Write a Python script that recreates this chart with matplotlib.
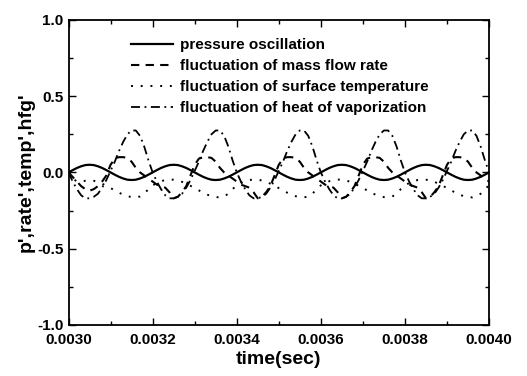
import numpy as np
import matplotlib
matplotlib.use("Agg")
import matplotlib.pyplot as plt
from matplotlib.ticker import MultipleLocator

# time grid the values were read on (10 microsecond steps)
time = np.linspace(0.0030, 0.0040, 101)

# values, one row per period (0.0002 s)
pressure = [
    0.000, 0.015, 0.029, 0.040, 0.048, 0.050, 0.048, 0.040, 0.029, 0.015,
    0.000, -0.015, -0.029, -0.040, -0.048, -0.050, -0.048, -0.040, -0.029, -0.015,
    0.000, 0.015, 0.029, 0.040, 0.048, 0.050, 0.048, 0.040, 0.029, 0.015,
    0.000, -0.015, -0.029, -0.040, -0.048, -0.050, -0.048, -0.040, -0.029, -0.015,
    0.000, 0.015, 0.029, 0.040, 0.048, 0.050, 0.048, 0.040, 0.029, 0.015,
    0.000, -0.015, -0.029, -0.040, -0.048, -0.050, -0.048, -0.040, -0.029, -0.015,
    0.000, 0.015, 0.029, 0.040, 0.048, 0.050, 0.048, 0.040, 0.029, 0.015,
    0.000, -0.015, -0.029, -0.040, -0.048, -0.050, -0.048, -0.040, -0.029, -0.015,
    0.000, 0.015, 0.029, 0.040, 0.048, 0.050, 0.048, 0.040, 0.029, 0.015,
    0.000, -0.015, -0.029, -0.040, -0.048, -0.050, -0.048, -0.040, -0.029, -0.015,
    0.000,
]

mass_rate = [
    0.000, -0.030, -0.060, -0.090, -0.110, -0.120, -0.110, -0.090, -0.060, -0.020,
    0.050, 0.090, 0.100, 0.100, 0.095, 0.070, 0.030, 0.000, -0.020, -0.040,
    -0.060, -0.080, -0.090, -0.100, -0.130, -0.170, -0.160, -0.130, -0.090, -0.020,
    0.050, 0.090, 0.100, 0.100, 0.095, 0.070, 0.030, 0.000, -0.020, -0.040,
    -0.060, -0.080, -0.090, -0.100, -0.130, -0.170, -0.160, -0.130, -0.090, -0.020,
    0.050, 0.090, 0.100, 0.100, 0.095, 0.070, 0.030, 0.000, -0.020, -0.040,
    -0.060, -0.080, -0.090, -0.100, -0.130, -0.170, -0.160, -0.130, -0.090, -0.020,
    0.050, 0.090, 0.100, 0.100, 0.095, 0.070, 0.030, 0.000, -0.020, -0.040,
    -0.060, -0.080, -0.090, -0.100, -0.130, -0.170, -0.160, -0.130, -0.090, -0.020,
    0.050, 0.090, 0.100, 0.100, 0.095, 0.070, 0.030, 0.000, -0.020, -0.040,
    -0.060,
]

surface_temp = [
    0.000, -0.040, -0.060, -0.060, -0.055, -0.052, -0.055, -0.062, -0.074, -0.088,
    -0.103, -0.118, -0.133, -0.146, -0.156, -0.162, -0.164, -0.158, -0.140, -0.110,
    -0.085, -0.070, -0.058, -0.050, -0.047, -0.048, -0.053, -0.062, -0.074, -0.088,
    -0.103, -0.118, -0.133, -0.146, -0.156, -0.162, -0.164, -0.158, -0.140, -0.110,
    -0.085, -0.070, -0.058, -0.050, -0.047, -0.048, -0.053, -0.062, -0.074, -0.088,
    -0.103, -0.118, -0.133, -0.146, -0.156, -0.162, -0.164, -0.158, -0.140, -0.110,
    -0.085, -0.070, -0.058, -0.050, -0.047, -0.048, -0.053, -0.062, -0.074, -0.088,
    -0.103, -0.118, -0.133, -0.146, -0.156, -0.162, -0.164, -0.158, -0.140, -0.110,
    -0.085, -0.070, -0.058, -0.050, -0.047, -0.048, -0.053, -0.062, -0.074, -0.088,
    -0.103, -0.118, -0.133, -0.146, -0.156, -0.162, -0.164, -0.158, -0.140, -0.110,
    -0.085,
]

heat_vap = [
    0.000, -0.060, -0.110, -0.150, -0.170, -0.170, -0.160, -0.140, -0.100, -0.050,
    0.010, 0.070, 0.140, 0.200, 0.250, 0.275, 0.275, 0.240, 0.170, 0.080,
    0.000, -0.060, -0.110, -0.150, -0.170, -0.170, -0.160, -0.140, -0.100, -0.050,
    0.010, 0.070, 0.140, 0.200, 0.250, 0.275, 0.275, 0.240, 0.170, 0.080,
    0.000, -0.060, -0.110, -0.150, -0.170, -0.170, -0.160, -0.140, -0.100, -0.050,
    0.010, 0.070, 0.140, 0.200, 0.250, 0.275, 0.275, 0.240, 0.170, 0.080,
    0.000, -0.060, -0.110, -0.150, -0.170, -0.170, -0.160, -0.140, -0.100, -0.050,
    0.010, 0.070, 0.140, 0.200, 0.250, 0.275, 0.275, 0.240, 0.170, 0.080,
    0.000, -0.060, -0.110, -0.150, -0.170, -0.170, -0.160, -0.140, -0.100, -0.050,
    0.010, 0.070, 0.140, 0.200, 0.250, 0.275, 0.275, 0.240, 0.170, 0.080,
    0.000,
]

labels = ["pressure oscillation",
          "fluctuation of mass flow rate",
          "fluctuation of surface temperature",
          "fluctuation of heat of vaporization"]

plt.rcParams['font.family'] = ['Liberation Sans', 'DejaVu Sans']
plt.rcParams['font.weight'] = 'bold'

fig = plt.figure(figsize=(5.27, 3.76), dpi=100)
ax = fig.add_axes([0.130, 0.136, 0.798, 0.811])

ax.plot(time, pressure, color='black', lw=1.6, label=labels[0])
ax.plot(time, mass_rate, color='black', lw=1.5, dashes=(4, 3), label=labels[1])
ax.plot(time, surface_temp, color='black', lw=1.4, dashes=(1, 4), label=labels[2])
ax.plot(time, heat_vap, color='black', lw=1.3, dashes=(5, 2.5, 1, 2.5), label=labels[3])

ax.set_xlim(0.0030, 0.0040)
ax.set_ylim(-1.0, 1.0)
ax.xaxis.set_major_locator(MultipleLocator(0.0002))
ax.xaxis.set_minor_locator(MultipleLocator(0.0001))
ax.yaxis.set_major_locator(MultipleLocator(0.5))
ax.yaxis.set_minor_locator(MultipleLocator(0.25))
ax.xaxis.set_major_formatter(matplotlib.ticker.FormatStrFormatter('%.4f'))
ax.yaxis.set_major_formatter(matplotlib.ticker.FormatStrFormatter('%.1f'))
ax.tick_params(which='both', direction='in', top=True, right=True, labelsize=11)
ax.tick_params(which='major', length=5, width=1)
ax.tick_params(which='minor', length=3, width=1)
ax.tick_params(axis='x', which='major', pad=6)
for s in ax.spines.values():
    s.set_linewidth(1.3)

ax.set_xlabel('time(sec)', fontsize=14, fontweight='bold', labelpad=3)
ax.set_ylabel("p',rate',temp',hfg'", fontsize=14, fontweight='bold', labelpad=2)

ax.legend(loc='upper left', bbox_to_anchor=(0.148, 0.94), frameon=False,
          fontsize=11, handlelength=2.75, handletextpad=0.5, labelspacing=0.45,
          borderpad=0, borderaxespad=0)

fig.savefig('out.png', dpi=100)
